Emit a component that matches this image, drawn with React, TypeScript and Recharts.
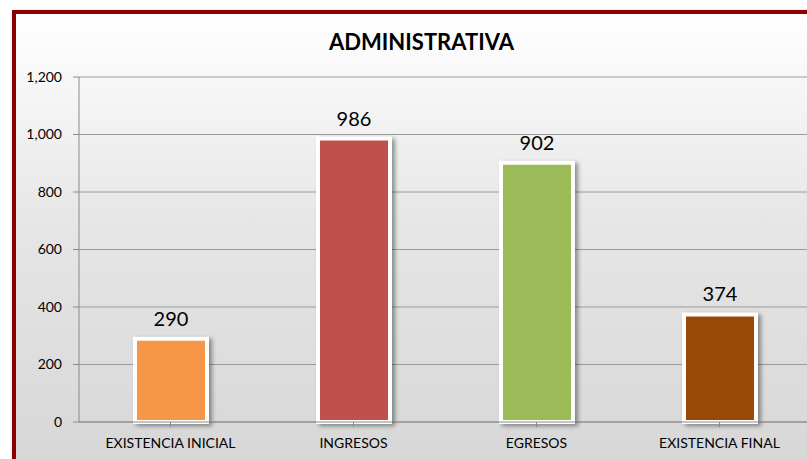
import React from 'react';
import { BarChart, Bar, XAxis, YAxis, CartesianGrid, Cell, LabelList } from 'recharts';

const categories = ['EXISTENCIA INICIAL', 'INGRESOS', 'EGRESOS', 'EXISTENCIA FINAL'];
const values = [290, 986, 902, 374];
const barColors = ['#F79646', '#C0504D', '#9BBB59', '#984807'];
const yTicks = [0, 200, 400, 600, 800, 1000, 1200];

const data = categories.map((name, i) => ({ name, value: values[i] }));

const font = 'Lato, "Open Sans", sans-serif';

const App: React.FC = () => {
  return (
    <div style={{ position: 'absolute', left: 0, top: 0, width: 807, height: 459, overflow: 'hidden', background: '#ffffff', fontFamily: font }}>
      {/* outer frame */}
      <div
        style={{
          position: 'absolute',
          left: 12,
          top: 10,
          width: 820,
          height: 470,
          border: '4px solid #8B0000',
          boxSizing: 'border-box',
          background: 'linear-gradient(to bottom, #ffffff 0%, #e6e6e6 45%, #d6d6d6 100%)',
          boxShadow: '1px 1px 3px rgba(0,0,0,0.35)',
        }}
      />
      <div
        style={{
          position: 'absolute',
          left: 0,
          top: 28,
          width: 843,
          textAlign: 'center',
          fontSize: 22,
          fontWeight: 700,
          color: '#000',
        }}
      >
        ADMINISTRATIVA
      </div>
      <div style={{ position: 'absolute', left: 0, top: 0 }}>
        <BarChart
          width={815}
          height={459}
          data={data}
          margin={{ top: 77, right: 4, bottom: 1, left: 19 }}
          barCategoryGap={0}
        >
          <CartesianGrid vertical={false} stroke="#9a9a9a" strokeWidth={1} />
          <XAxis
            dataKey="name"
            axisLine={{ stroke: '#8a8a8a' }}
            tickLine={{ stroke: '#8a8a8a' }}
            tickSize={5}
            tickMargin={11}
            height={36}
            interval={0}
            tick={{ fill: '#000', fontSize: 14, fontFamily: font }}
          />
          <YAxis
            domain={[0, 1200]}
            ticks={yTicks}
            width={60}
            axisLine={{ stroke: '#8a8a8a' }}
            tickLine={{ stroke: '#8a8a8a' }}
            tickSize={6}
            tickMargin={11}
            tickFormatter={(v: number) => v.toLocaleString('en-US')}
            tick={{ fill: '#000', fontSize: 14, fontFamily: font }}
          />
          <Bar
            dataKey="value"
            barSize={72}
            stroke="#ffffff"
            strokeWidth={4}
            isAnimationActive={false}
            style={{ filter: 'drop-shadow(3px 2px 2px rgba(0,0,0,0.4))' }}
          >
            {data.map((entry, index) => (
              <Cell key={`cell-${index}`} fill={barColors[index]} />
            ))}
            <LabelList
              dataKey="value"
              position="top"
              offset={13}
              style={{ fill: '#000', fontSize: 20, fontFamily: font }}
            />
          </Bar>
        </BarChart>
      </div>
    </div>
  );
};

export default App;
